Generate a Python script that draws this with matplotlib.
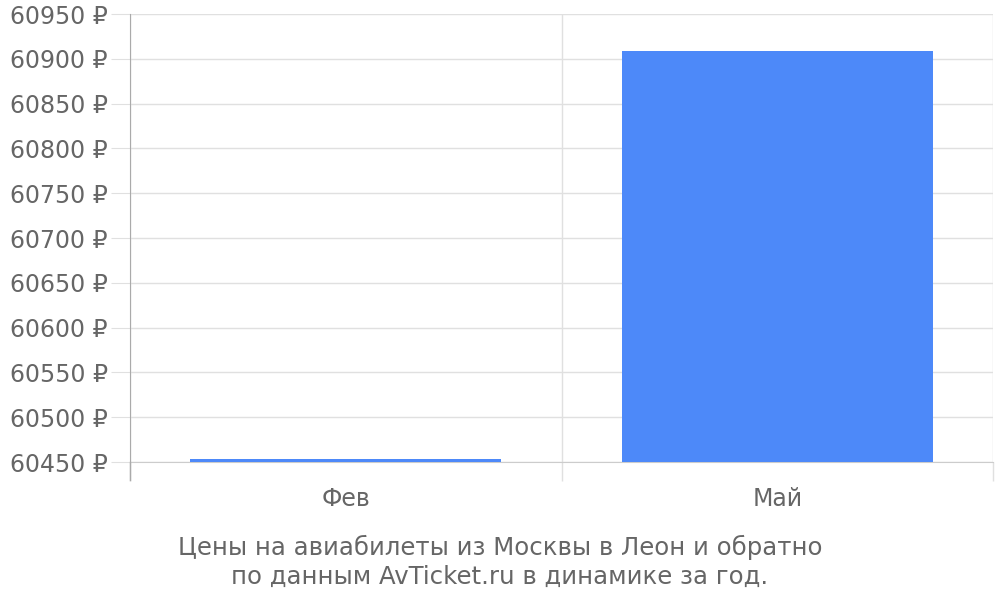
import matplotlib
matplotlib.use("Agg")
import matplotlib.pyplot as plt
from matplotlib.ticker import FixedLocator, FuncFormatter
from matplotlib.lines import Line2D

categories = ["Фев", "Май"]
prices = [60453, 60909]
y_ticks = [60450, 60500, 60550, 60600, 60650, 60700, 60750, 60800, 60850, 60900, 60950]
caption = "Цены на авиабилеты из Москвы в Леон и обратно\nпо данным AvTicket.ru в динамике за год."

plt.rcParams['font.family'] = ['DejaVu Sans']
text_color = "#666666"
grid_color = "#e0e0e0"

fig = plt.figure(figsize=(10, 6), dpi=100)
ax = fig.add_axes([0.13, 0.23, 0.863, 1 - 14/600 - 0.23])

x = list(range(len(categories)))
base = y_ticks[0]
ax.bar(x, [p - base for p in prices], bottom=base, width=0.72, color="#4d89f9", zorder=3)

ax.set_xlim(-0.5, len(categories) - 0.5)
ax.set_ylim(y_ticks[0], y_ticks[-1])
ax.set_yticks(y_ticks)
ax.yaxis.set_major_formatter(FuncFormatter(lambda v, p: f"{int(v)} ₽"))
ax.tick_params(axis='y', length=14, color=grid_color, labelsize=17, labelcolor=text_color, pad=2)
ax.grid(axis='y', color=grid_color, linewidth=1, zorder=0)

ax.set_xticks(x)
ax.set_xticklabels(categories)
ax.tick_params(axis='x', which='major', length=0, labelsize=17, labelcolor=text_color, pad=18)
ax.xaxis.set_minor_locator(FixedLocator([i - 0.5 for i in range(len(categories) + 1)]))
ax.tick_params(axis='x', which='minor', length=14, color=grid_color, width=1)
ax.grid(axis='x', which='minor', color=grid_color, linewidth=1, zorder=0)

for s in ['top', 'right']:
    ax.spines[s].set_visible(False)
ax.spines['left'].set_color("#aaaaaa")
ax.spines['bottom'].set_color("#cccccc")

fig.add_artist(Line2D([0.13, 0.13], [1 - 480/600, 0.23], color="#aaaaaa", lw=1))

fig.text(0.5, 1 - 561.5/600, caption, ha='center', va='center', fontsize=17.6, color=text_color, linespacing=1.25)

fig.savefig("out.png", dpi=100)
